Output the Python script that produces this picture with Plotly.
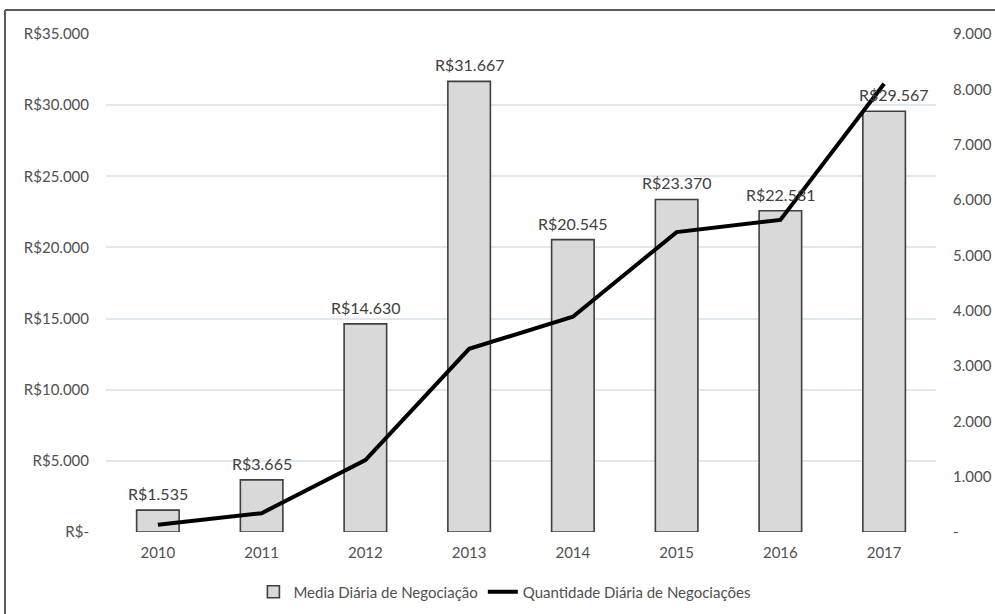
import plotly.graph_objects as go

# Yearly trading figures
anos = ["2010", "2011", "2012", "2013", "2014", "2015", "2016", "2017"]
media_diaria = [1535, 3665, 14630, 31667, 20545, 23370, 22581, 29567]
quantidade_diaria = [130, 340, 1300, 3310, 3890, 5420, 5640, 8100]

# Axis ticks
ticks_esq = [0, 5000, 10000, 15000, 20000, 25000, 30000, 35000]
ticks_dir = [0, 1000, 2000, 3000, 4000, 5000, 6000, 7000, 8000, 9000]


def fmt_milhar(v):
    return f"{v:,}".replace(",", ".")


texto_esq = ["R$-" if v == 0 else "R$" + fmt_milhar(v) for v in ticks_esq]
texto_dir = ["-" if v == 0 else fmt_milhar(v) for v in ticks_dir]

fonte = "Lato, Carlito, 'Open Sans', sans-serif"
cinza_txt = "#505050"
grade = "#e2e7ee"

fig = go.Figure()

fig.add_trace(go.Bar(
    x=anos,
    y=media_diaria,
    name="Media Diária de Negociação",
    marker=dict(color="#d9d9d9", line=dict(color="#3f3f3f", width=1.6)),
    yaxis="y",
))

fig.add_trace(go.Scatter(
    x=anos,
    y=quantidade_diaria,
    name="Quantidade Diária de Negociações",
    mode="lines",
    line=dict(color="#000000", width=4),
    yaxis="y2",
))

# Value labels above each bar, placed by category index
# (the last one nudged right, clear of the line)
for i, v in enumerate(media_diaria):
    fig.add_annotation(
        x=i, y=v, xref="x", yref="y",
        text="R$" + fmt_milhar(v), showarrow=False,
        yanchor="bottom", yshift=5, xshift=9 if i == len(anos) - 1 else 0,
        font=dict(family=fonte, size=16, color="#404040"),
    )

W, H = 995, 614
ml, mr, mt, mb = 106, 59, 34, 82
pw, ph = W - ml - mr, H - mt - mb


def px_x(p):
    return (p - ml) / pw


def px_y(p):
    return (H - mb - p) / ph


# Outer chart frame: only its left and top edges fall inside the canvas
moldura = dict(color="#5a5a5a", width=2)
fig.add_shape(type="line", xref="paper", yref="paper",
              x0=px_x(5), x1=px_x(5), y0=px_y(H + 5), y1=px_y(10), line=moldura)
fig.add_shape(type="line", xref="paper", yref="paper",
              x0=px_x(5), x1=px_x(W + 5), y0=px_y(10), y1=px_y(10), line=moldura)

fig.update_layout(
    width=W, height=H,
    margin=dict(l=ml, r=mr, t=mt, b=mb, autoexpand=False),
    paper_bgcolor="white",
    plot_bgcolor="white",
    bargap=0.59,
    font=dict(family=fonte, size=15, color=cinza_txt),
    showlegend=True,
    legend=dict(orientation="h", x=0.48, xanchor="center",
                yref="container", y=1 - 592 / H, yanchor="middle",
                font=dict(family=fonte, size=15, color=cinza_txt),
                itemwidth=30, traceorder="normal"),
    xaxis=dict(type="category", range=[-0.5, len(anos) - 0.5],
               showgrid=False, showline=False, zeroline=False,
               automargin=False,
               tickfont=dict(family=fonte, size=15, color=cinza_txt),
               ticks="outside", ticklen=7, tickcolor="white"),
    yaxis=dict(range=[0, 35000], tickvals=ticks_esq, ticktext=texto_esq,
               showgrid=True, gridcolor=grade, gridwidth=1.5, automargin=False,
               zeroline=False, showline=False,
               tickfont=dict(family=fonte, size=15, color=cinza_txt),
               ticklabelstandoff=16),
    yaxis2=dict(range=[0, 9000], tickvals=ticks_dir, ticktext=texto_dir,
                overlaying="y", side="right", showgrid=False, automargin=False,
                zeroline=False, showline=False,
                tickfont=dict(family=fonte, size=15, color=cinza_txt),
                ticklabelstandoff=16),
)

fig.write_html("out.html")
